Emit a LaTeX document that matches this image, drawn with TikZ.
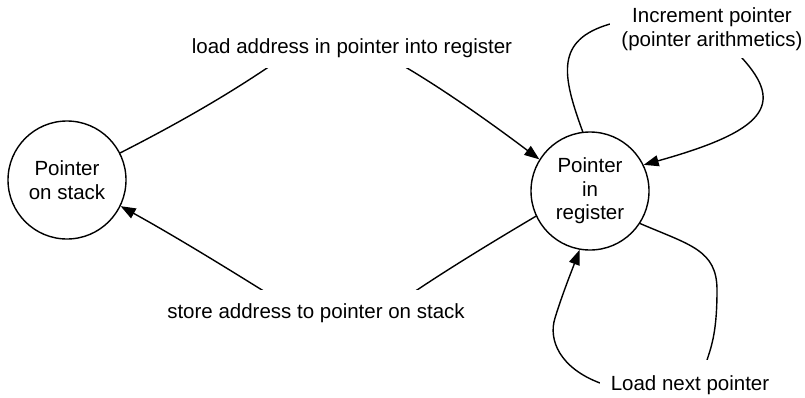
\documentclass[tikz,border=0pt]{standalone}
\usepackage{fontspec}
\setmainfont{Liberation Sans}
\usetikzlibrary{arrows.meta}

\tikzset{
  state/.style={circle, draw, line width=1.4pt, minimum size=118pt, inner sep=0pt,
    align=center, font=\fontsize{20.5}{23.5}\selectfont},
  conn/.style={line width=1.4pt, line cap=round},
  tip/.style={-{Triangle[length=15pt,width=11pt]}},
  lbl/.style={fill=white, inner sep=0pt, align=center, font=\fontsize{20.5}{23.5}\selectfont},
}

\begin{document}
\begin{tikzpicture}[x=1pt, y=-1pt]
  \useasboundingbox[fill=white] (0,0) rectangle (805,397);

  % states
  \node[state] (stack) at (67,180) {Pointer\\on stack};
  \node[state] (reg)   at (590,191) {Pointer\\in\\register};

  % stack -> register
  \draw[conn, tip] (stack.27) .. controls (175,125) and (224,97) .. (267,68)
    .. controls (307,41) and (367,44) .. (407,68)
    .. controls (444,90) and (487,120) .. (reg.148);

  % register -> stack
  \draw[conn, tip] (reg.205) .. controls (489,244) and (450,268) .. (417,290)
    .. controls (380,315) and (300,315) .. (262,290)
    .. controls (217,262) and (171,234) .. (stack.-26);

  % increment loop
  \draw[conn, tip] (reg.97) .. controls (562,75) and (555,40) .. (610,24)
    .. controls (650,8) and (720,20) .. (742,58)
    .. controls (785,105) and (765,131) .. (reg.26);

  % load-next loop
  \draw[conn, tip] (reg.-33) .. controls (690,245) and (717,250) .. (717,290)
    .. controls (717,330) and (712,345) .. (707,360)
    .. controls (700,385) and (640,392) .. (600,383)
    .. controls (560,368) and (548,340) .. (555,318)
    .. controls (562,295) and (572,270) .. (reg.260);

  % edge labels
  \node[lbl, minimum width=330pt, minimum height=40pt] (lload) at (352,48)
    {load address in pointer into register};
  \node[lbl, minimum width=302pt, minimum height=46pt] (lstore) at (316,313)
    {store address to pointer on stack};
  \node[lbl, minimum width=204pt, minimum height=58pt] (linc) at (712,29)
    {Increment pointer\\(pointer arithmetics)};
  \node[lbl, minimum width=180pt, minimum height=50pt] (lnext) at (690,385)
    {Load next pointer};
\end{tikzpicture}
\end{document}
